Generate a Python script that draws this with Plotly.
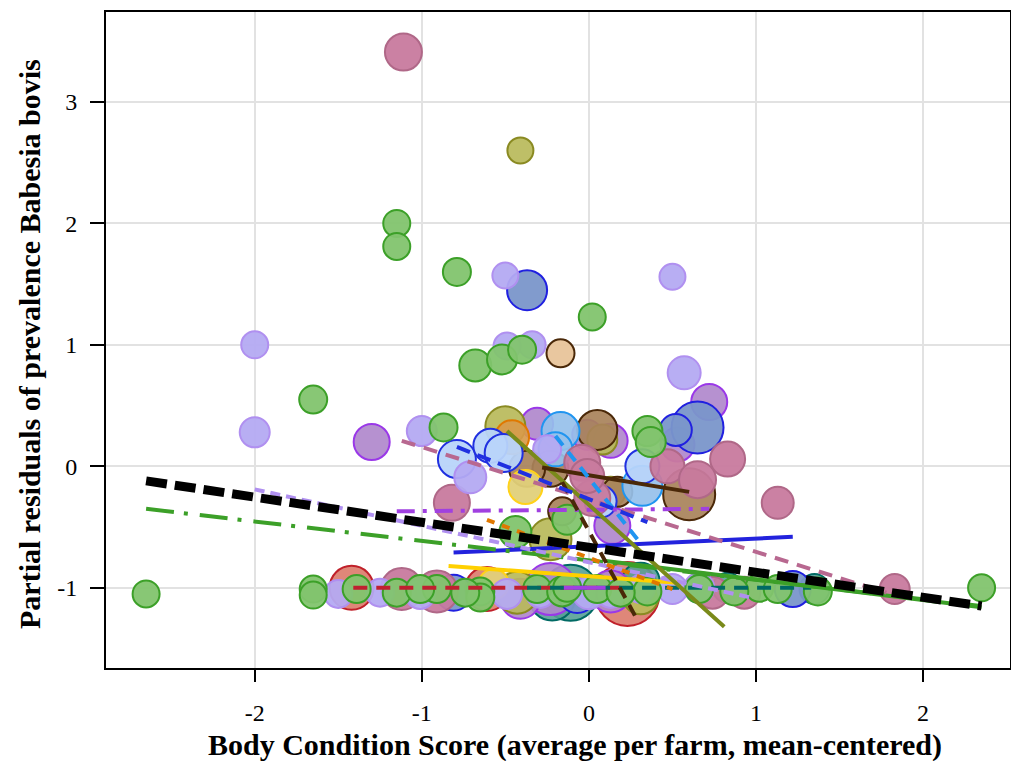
import plotly.graph_objects as go

# ---------------- data ----------------
# each farm group: x = BCS (mean-centred), y = partial residual, n = bubble weight
green_x = [-2.65, -1.65, -1.65, -1.65, -1.15, -1.15, -0.79, -0.87, -0.68, -0.52, -0.40, 0.02, 0.35, 0.37,
           -0.44, -0.13, -1.39, -1.15, -0.91, -0.65, -0.65, -0.31, -0.16, -0.13, 0.35, 1.02, 1.13, 1.37,
           2.35, -1.01, -0.74, 0.05, 0.19, 0.66, 0.87]
green_y = [-1.05, 0.55, -1.01, -1.06, 2.00, 1.81, 1.60, 0.32, 0.83, 0.88, 0.96, 1.23, 0.29, 0.20,
           -0.54, -0.44, -1.01, -1.04, -1.01, -1.03, -1.08, -1.01, -1.03, -1.00, -1.03, -1.00, -1.01, -1.03,
           -1.00, -1.01, -1.04, -1.01, -1.04, -1.01, -1.03]
green_n = [27, 28, 27, 27, 27, 27, 28, 28, 32, 30, 28, 27, 30, 30,
           32, 30, 28, 28, 28, 28, 28, 28, 30, 28, 28, 28, 28, 28,
           27, 28, 28, 28, 28, 28, 28]

lav_x = [-2.0, -2.0, -0.50, -0.34, -0.49, 0.50, 0.57, -1.0, -0.71, -0.25,
         -1.5, -1.25, -1.01, -0.49, 0.0, 0.50, 0.66, 0.13, -0.29, 0.31]
lav_y = [1.00, 0.28, 1.57, 1.00, 0.99, 1.56, 0.77, 0.29, -0.09, 0.14,
         -1.05, -1.04, -1.05, -1.05, -1.04, -1.01, -1.00, -1.05, -1.05, -1.01]
lav_n = [27, 30, 26, 27, 27, 26, 33, 30, 32, 28,
         28, 28, 30, 30, 33, 30, 30, 28, 28, 28]

pink_x = [-1.11, -0.82, -0.04, 0.02, 0.47, 0.65, 0.83, 1.13, -0.01, -1.12, -0.91, 1.83, 0.93, 0.74]
pink_y = [3.41, -0.30, 0.03, -0.26, 0.00, -0.11, 0.06, -0.30, -0.08, -1.01, -1.03, -1.01, -1.04, -1.04]
pink_n = [37, 36, 36, 36, 34, 37, 35, 32, 34, 42, 42, 30, 32, 32]

olive_x = [-0.41, -0.50, 0.08, -0.23, -0.43, 0.31, 0.13]
olive_y = [2.60, 0.33, 0.22, -0.60, -1.04, -1.07, -0.21]
olive_n = [26, 40, 30, 42, 42, 36, 30]

blue_x = [-0.37, 0.65, 0.52, 1.22, -0.81, -0.07]
blue_y = [1.45, 0.32, 0.30, -1.01, -1.04, -1.05]
blue_n = [40, 52, 32, 36, 36, 38]

lblue_x = [-0.79, -0.59, -0.51, 0.07, 0.32]
lblue_y = [0.06, 0.17, 0.11, -0.29, 0.00]
lblue_n = [38, 34, 38, 32, 34]

sky_x = [-0.17, 0.32, -0.20]
sky_y = [0.29, -0.16, 0.14]
sky_n = [38, 40, 34]

brown_x = [0.60, 0.05, -0.23, -0.16, 0.17, -0.37]
brown_y = [-0.23, 0.30, -0.02, -0.37, -0.21, -0.02]
brown_n = [52, 40, 36, 28, 30, 36]

peach_x = [-0.17]
peach_y = [0.93]
peach_n = [28]

purple_x = [-1.30, 0.72, -0.31, -0.01, 0.13, 0.14, 0.53, -0.23, 0.13, -0.41]
purple_y = [0.20, 0.53, 0.35, 0.26, 0.21, -0.49, 0.18, -1.01, -1.03, -1.09]
purple_n = [36, 36, 32, 30, 34, 36, 34, 52, 42, 40]

red_x = [-1.42, -0.61, 0.23]
red_y = [-1.00, -1.01, -1.05]
red_n = [44, 44, 64]

teal_x = [-0.11, 0.31, 0.83, 1.35, -0.22]
teal_y = [-1.04, -0.95, -1.00, -1.01, -1.08]
teal_n = [56, 38, 30, 30, 46]

yellow_x = [-0.38, -0.57]
yellow_y = [-0.17, -0.97]
yellow_n = [34, 30]

orange_x = [-0.46]
orange_y = [0.24]
orange_n = [34]

# fitted lines per farm group: (x0, x1), (y0, y1)
fit_overall = ([-2.65, 2.35], [-0.12, -1.15])
fit_green = ([-2.65, 2.35], [-0.35, -1.15])
fit_green_b = ([0.10, 2.35], [-0.78, -1.16])
fit_lav = ([-2.0, 0.97], [-0.19, -1.08])
fit_purple = ([-1.15, 0.72], [-0.37, -0.35])
fit_purple_b = ([-0.15, 0.10], [-1.00, -1.00])
fit_pink = ([-1.12, 1.78], [0.21, -1.04])
fit_blue_d = ([-0.79, 0.35], [0.16, -0.46])
fit_blue_s = ([-0.81, 1.22], [-0.71, -0.58])
fit_yellow = ([-0.84, 0.55], [-0.82, -0.96])
fit_red = ([-1.41, 0.20], [-1.00, -1.00])
fit_teal = ([-0.37, 1.33], [-1.00, -1.00])
fit_orange = ([-0.61, 0.50], [-0.44, -1.01])
fit_olive = ([-0.49, 0.81], [0.29, -1.32])
fit_brown_s = ([-0.28, 0.60], [-0.01, -0.21])
fit_brown_d = ([-0.16, 0.28], [-0.13, -1.24])
fit_sky = ([-0.20, 0.29], [0.25, -0.60])

x_ticks = [-2, -1, 0, 1, 2]
x_labels = ["-2", "-1", "0", "1", "2"]
y_ticks = [-1, 0, 1, 2, 3]
y_labels = ["-1", "0", "1", "2", "3"]

x_title = "Body Condition Score (average per farm, mean-centered)"
y_title = "Partial residuals of prevalence Babesia bovis"

# ---------------- figure ----------------
fig = go.Figure()

groups = [
    (red_x, red_y, red_n, "rgba(220,122,106,0.9)", "#c0202a"),
    (teal_x, teal_y, teal_n, "rgba(86,160,150,0.9)", "#006a64"),
    (purple_x, purple_y, purple_n, "rgba(176,136,204,0.92)", "#9a38e8"),
    (olive_x, olive_y, olive_n, "rgba(184,186,90,0.92)", "#8a8a22"),
    (brown_x, brown_y, brown_n, "rgba(168,130,90,0.92)", "#4a2808"),
    (sky_x, sky_y, sky_n, "rgba(150,192,234,0.92)", "#2095f0"),
    (orange_x, orange_y, orange_n, "rgba(216,154,74,0.92)", "#e07800"),
    (blue_x, blue_y, blue_n, "rgba(122,150,202,0.95)", "#2020e0"),
    (lblue_x, lblue_y, lblue_n, "rgba(184,212,250,0.95)", "#2030e0"),
    (yellow_x, yellow_y, yellow_n, "rgba(224,208,122,0.95)", "#ffd21a"),
    (pink_x, pink_y, pink_n, "rgba(200,122,158,0.95)", "#b06888"),
    (peach_x, peach_y, peach_n, "rgba(232,196,154,0.95)", "#4a2808"),
    (lav_x, lav_y, lav_n, "rgba(180,170,242,0.95)", "#b090f0"),
    (green_x, green_y, green_n, "rgba(130,196,110,0.95)", "#3ca028"),
]
for gx, gy, gn, fill, edge in groups:
    fig.add_trace(go.Scatter(
        x=gx, y=gy, mode="markers",
        marker=dict(size=gn, sizemode="diameter", color=fill, opacity=1,
                    line=dict(color=edge, width=2)),
        hoverinfo="skip", showlegend=False))

lines = [
    (fit_red, "#c02030", 4, "14px,9px"),
    (fit_teal, "#006a64", 4, "14px,9px"),
    (fit_purple_b, "#a040e0", 4, "solid"),
    (fit_yellow, "#ffd000", 4, "solid"),
    (fit_blue_s, "#2222dd", 4, "solid"),
    (fit_green_b, "#3ca028", 4, "solid"),
    (fit_green, "#3ca028", 4, "28px,10px,4px,12px"),
    (fit_lav, "#b090f0", 4, "10px,6px"),
    (fit_purple, "#a040e0", 4, "18px,8px,4px,8px"),
    (fit_pink, "#b86890", 4, "14px,9px"),
    (fit_orange, "#e07800", 4, "8px,8px"),
    (fit_olive, "#7a8a1a", 4, "solid"),
    (fit_brown_s, "#4a2808", 4, "solid"),
    (fit_brown_d, "#4a2808", 4, "12px,8px"),
    (fit_sky, "#2095f0", 4, "12px,8px"),
    (fit_blue_d, "#2030e0", 4, "14px,8px"),
    (fit_overall, "#000000", 9, "21px,8px"),
]
for (lx, ly), col, wd, dash in lines:
    fig.add_trace(go.Scatter(
        x=lx, y=ly, mode="lines",
        line=dict(color=col, width=wd, dash=dash),
        hoverinfo="skip", showlegend=False))

axis_common = dict(
    showline=True, linecolor="black", linewidth=2, mirror=True,
    ticks="outside", tickwidth=2, tickcolor="black",
    showgrid=True, gridcolor="#e2e2e2", gridwidth=1.5, zeroline=False,
    automargin=False,
    tickfont=dict(family="Liberation Serif", size=24, color="black"),
)

fig.update_layout(
    width=1011, height=761,
    margin=dict(l=106, r=1, t=12, b=93),
    paper_bgcolor="white", plot_bgcolor="white",
    xaxis=dict(range=[-2.89, 2.52], tickvals=x_ticks, ticktext=x_labels,
               ticklen=12, ticklabelstandoff=10, **axis_common),
    yaxis=dict(range=[-1.66, 3.74], tickvals=y_ticks, ticktext=y_labels,
               ticklen=14, ticklabelstandoff=8, **axis_common),
    annotations=[
        dict(text="<b>" + x_title + "</b>", xref="paper", yref="paper",
             x=0.519, y=-0.1174, xanchor="center", yanchor="middle", showarrow=False,
             font=dict(family="Liberation Serif", size=30, color="black")),
        dict(text="<b>" + y_title + "</b>", xref="paper", yref="paper",
             x=-0.084, y=0.494, xanchor="center", yanchor="middle", showarrow=False,
             textangle=-90,
             font=dict(family="Liberation Serif", size=30, color="black")),
    ],
)

fig.write_html("out.html",
               config={"displayModeBar": False},
               post_script="document.body.style.margin='0px';"
                           "document.body.style.overflow='hidden';")
